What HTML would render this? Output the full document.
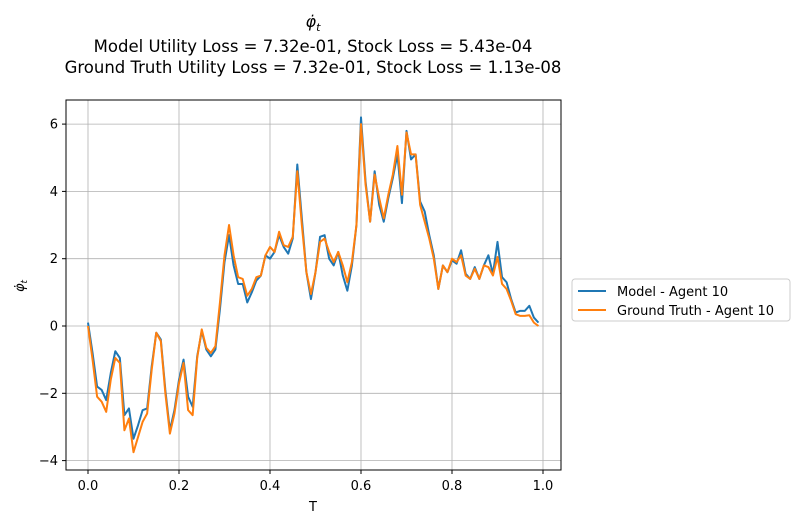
<!DOCTYPE html>
<html><head><meta charset="utf-8"><style>
html,body{margin:0;background:#fff;overflow:hidden;width:799px;height:523px;font-family:"Liberation Sans","DejaVu Sans",sans-serif;}
svg{display:block;}
svg text{font-family:"DejaVu Sans","Liberation Sans",sans-serif;}
</style></head><body>
<svg id="c" width="799" height="523" xmlns="http://www.w3.org/2000/svg">
<text x="313" y="27" text-anchor="middle" font-size="16" font-style="italic">φ̇<tspan font-size="11" dy="4">t</tspan></text>
<text x="313" y="52" text-anchor="middle" font-size="16.5">Model Utility Loss = 7.32e-01, Stock Loss = 5.43e-04</text>
<text x="313" y="73" text-anchor="middle" font-size="16.5">Ground Truth Utility Loss = 7.32e-01, Stock Loss = 1.13e-08</text>
<g id="grid"></g><g id="ticks"></g><g id="series"></g>
<rect x="66" y="100" width="495" height="370" fill="none" stroke="#000" stroke-width="1"/>
<text x="313" y="511" text-anchor="middle" font-size="13">T</text>
<text transform="translate(24,286) rotate(-90)" text-anchor="middle" font-size="13" font-style="italic">φ̇<tspan font-size="9" dy="3">t</tspan></text>
<g>
<rect x="572" y="279" width="218" height="42" rx="3" fill="#fff" stroke="#ccc"/>
<line x1="578" y1="291" x2="606" y2="291" stroke="#1f77b4" stroke-width="2"/>
<text x="617" y="296" font-size="13">Model - Agent 10</text>
<line x1="578" y1="310" x2="606" y2="310" stroke="#ff7f0e" stroke-width="2"/>
<text x="617" y="315" font-size="13">Ground Truth - Agent 10</text>
</g>
</svg>
<script>
const model=[0.1,-0.8,-1.8,-1.9,-2.2,-1.4,-0.75,-0.95,-2.65,-2.45,-3.35,-2.95,-2.5,-2.45,-1.2,-0.2,-0.4,-1.9,-3.1,-2.5,-1.6,-1.0,-2.1,-2.4,-0.9,-0.15,-0.7,-0.9,-0.7,0.5,1.9,2.7,1.8,1.25,1.25,0.7,1.0,1.35,1.5,2.1,2.0,2.2,2.7,2.35,2.15,2.6,4.8,3.2,1.6,0.8,1.6,2.65,2.7,2.0,1.8,2.2,1.5,1.05,1.8,3.0,6.2,4.3,3.1,4.6,3.6,3.1,3.8,4.4,5.1,3.65,5.8,4.95,5.1,3.7,3.4,2.7,2.1,1.1,1.8,1.6,1.95,1.85,2.25,1.55,1.4,1.75,1.4,1.8,2.1,1.55,2.5,1.45,1.3,0.8,0.4,0.45,0.45,0.6,0.25,0.1];
const truth=[0.0,-1.0,-2.1,-2.25,-2.55,-1.6,-0.95,-1.1,-3.1,-2.75,-3.75,-3.3,-2.85,-2.6,-1.3,-0.2,-0.45,-2.0,-3.2,-2.6,-1.7,-1.1,-2.5,-2.65,-0.95,-0.1,-0.65,-0.8,-0.6,0.7,2.1,3.0,2.1,1.45,1.4,0.9,1.1,1.45,1.5,2.1,2.35,2.2,2.8,2.4,2.35,2.65,4.6,3.0,1.6,0.95,1.6,2.5,2.6,2.2,1.9,2.2,1.8,1.3,1.9,3.0,6.0,4.2,3.1,4.5,3.8,3.2,3.9,4.5,5.35,3.9,5.75,5.1,5.1,3.6,3.1,2.6,2.0,1.1,1.8,1.6,2.0,1.9,2.1,1.5,1.4,1.7,1.4,1.8,1.75,1.5,2.05,1.25,1.1,0.75,0.35,0.3,0.3,0.32,0.1,0.0];
const xTicks=[0,0.2,0.4,0.6,0.8,1.0];
const xTickLabels=["0.0","0.2","0.4","0.6","0.8","1.0"];
const yTicks=[-4,-2,0,2,4,6];
const yTickLabels=["−4","−2","0","2","4","6"];
const dt=0.01;
const NS="http://www.w3.org/2000/svg";
const xs=t=>88+455*t;
const ys=v=>326-33.65*v;
function mk(tag,attrs,parent,txt){const e=document.createElementNS(NS,tag);for(const k in attrs)e.setAttribute(k,attrs[k]);if(txt!==undefined)e.textContent=txt;parent.appendChild(e);return e;}
const grid=document.getElementById('grid'),ticks=document.getElementById('ticks'),series=document.getElementById('series');
xTicks.forEach((t,i)=>{
 const g=mk('line',{x1:xs(t),x2:xs(t),y1:100,y2:470,stroke:'#b0b0b0','stroke-width':0.8},grid);
 
 
 mk('line',{x1:xs(t),x2:xs(t),y1:470,y2:474,stroke:'#000'},ticks);
 const l=mk('text',{x:xs(t),y:490,'text-anchor':'middle','font-size':13},ticks,xTickLabels[i]);
 
 
});
yTicks.forEach((v,i)=>{
 const g=mk('line',{x1:66,x2:561,y1:ys(v),y2:ys(v),stroke:'#b0b0b0','stroke-width':0.8},grid);
 
 
 mk('line',{x1:62,x2:66,y1:ys(v),y2:ys(v),stroke:'#000'},ticks);
 const l=mk('text',{x:58,y:ys(v)+4.5,'text-anchor':'end','font-size':13},ticks,yTickLabels[i]);
 
 
});
function line(arr,color,name){
 const d=arr.map((v,i)=>(i?'L':'M')+xs(i*dt).toFixed(2)+','+ys(v).toFixed(2)).join(' ');
 const p=mk('path',{d:d,fill:'none',stroke:color,'stroke-width':2,'stroke-linejoin':'round'},series);
 
 
}
line(model,'#1f77b4','model-line');
line(truth,'#ff7f0e','ground-truth-line');
</script>
</body></html>
